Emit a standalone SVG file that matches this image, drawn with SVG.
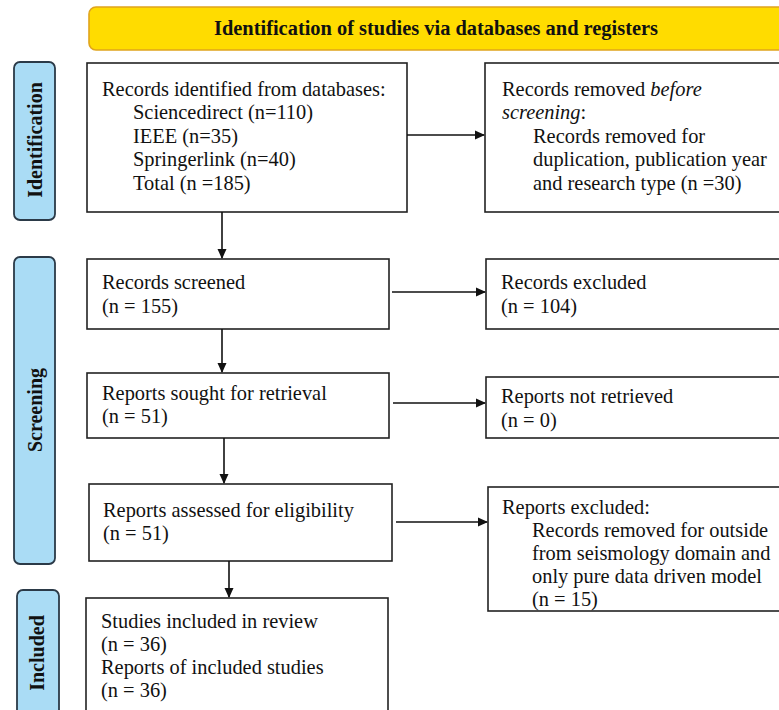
<svg xmlns="http://www.w3.org/2000/svg" width="779" height="710" viewBox="0 0 779 710">
<style>
.box{fill:#fff;stroke:#222;stroke-width:1.6}
.side{fill:#aadcf5;stroke:#2b3a48;stroke-width:1.8}
.t{font-family:"Liberation Serif","Times New Roman",serif;font-size:20.4px;fill:#111}
.sl{font-family:"Liberation Serif","Times New Roman",serif;font-size:20px;font-weight:bold;fill:#111}
.conn{stroke:#111;stroke-width:1.6;fill:none;marker-end:url(#ah)}
</style>
<defs>
<marker id="ah" markerWidth="10" markerHeight="10" refX="9" refY="5" orient="auto" markerUnits="userSpaceOnUse">
<path d="M0,0.5 L10,5 L0,9.5 Z" fill="#111"/>
</marker>
</defs>
<rect width="779" height="710" fill="#fff"/>

<g id="header">
<rect x="89" y="7" width="710" height="43" rx="7" fill="#ffdc00" stroke="#e0a41c" stroke-width="1.6"/>
<text x="436" y="35" text-anchor="middle" class="sl" font-size="21" textLength="444" lengthAdjust="spacingAndGlyphs">Identification of studies via databases and registers</text>
</g>

<g id="side-identification">
<rect class="side" x="14" y="62" width="41" height="158" rx="6"/>
<text class="sl" transform="translate(42,140) rotate(-90)" text-anchor="middle">Identification</text>
</g>
<g id="side-screening">
<rect class="side" x="14" y="257" width="41" height="307" rx="6"/>
<text class="sl" transform="translate(42,410) rotate(-90)" text-anchor="middle">Screening</text>
</g>
<g id="side-included">
<rect class="side" x="17" y="590" width="42" height="130" rx="6"/>
<text class="sl" transform="translate(44,653) rotate(-90)" text-anchor="middle">Included</text>
</g>

<g id="records-identified">
<rect class="box" x="87" y="63" width="320" height="149"/>
<text class="t" x="102" y="95.5">Records identified from databases:</text>
<text class="t" x="133" y="119">Sciencedirect (n=110)</text>
<text class="t" x="133" y="142.5">IEEE (n=35)</text>
<text class="t" x="133" y="166">Springerlink (n=40)</text>
<text class="t" x="133" y="189.5">Total (n =185)</text>
</g>

<g id="records-removed">
<rect class="box" x="485" y="63" width="310" height="149"/>
<text class="t" x="502" y="95.5">Records removed <tspan font-style="italic">before</tspan></text>
<text class="t" x="502" y="119"><tspan font-style="italic">screening</tspan>:</text>
<text class="t" x="533" y="142.5">Records removed for</text>
<text class="t" x="533" y="166">duplication, publication year</text>
<text class="t" x="533" y="189.5">and research type (n =30)</text>
</g>

<g id="records-screened">
<rect class="box" x="87" y="259" width="302" height="70"/>
<text class="t" x="102" y="289">Records screened</text>
<text class="t" x="102" y="313">(n = 155)</text>
</g>

<g id="records-excluded">
<rect class="box" x="486" y="259" width="310" height="70"/>
<text class="t" x="501" y="289">Records excluded</text>
<text class="t" x="501" y="313">(n = 104)</text>
</g>

<g id="reports-sought">
<rect class="box" x="87" y="373" width="302" height="65"/>
<text class="t" x="102" y="400">Reports sought for retrieval</text>
<text class="t" x="102" y="423">(n = 51)</text>
</g>

<g id="reports-not-retrieved">
<rect class="box" x="486" y="377" width="310" height="61"/>
<text class="t" x="501" y="403">Reports not retrieved</text>
<text class="t" x="501" y="427">(n = 0)</text>
</g>

<g id="reports-assessed">
<rect class="box" x="89" y="484" width="303" height="77"/>
<text class="t" x="103" y="517">Reports assessed for eligibility</text>
<text class="t" x="103" y="540">(n = 51)</text>
</g>

<g id="reports-excluded">
<rect class="box" x="488" y="487" width="310" height="124"/>
<text class="t" x="502" y="514">Reports excluded:</text>
<text class="t" x="532" y="537">Records removed for outside</text>
<text class="t" x="532" y="560">from seismology domain and</text>
<text class="t" x="532" y="583">only pure data driven model</text>
<text class="t" x="532" y="606">(n = 15)</text>
</g>

<g id="studies-included">
<rect class="box" x="86" y="598" width="302" height="130"/>
<text class="t" x="101" y="628">Studies included in review</text>
<text class="t" x="101" y="651">(n = 36)</text>
<text class="t" x="101" y="674">Reports of included studies</text>
<text class="t" x="101" y="697">(n = 36)</text>
</g>

<g id="connectors">
<line class="conn" x1="222" y1="212" x2="222" y2="258"/>
<line class="conn" x1="407" y1="135" x2="484" y2="135"/>
<line class="conn" x1="222" y1="329" x2="222" y2="372"/>
<line class="conn" x1="392" y1="292" x2="485" y2="292"/>
<line class="conn" x1="224" y1="438" x2="224" y2="483"/>
<line class="conn" x1="393" y1="403" x2="485" y2="403"/>
<line class="conn" x1="229" y1="561" x2="229" y2="597"/>
<line class="conn" x1="396" y1="522" x2="487" y2="522"/>
</g>
</svg>
